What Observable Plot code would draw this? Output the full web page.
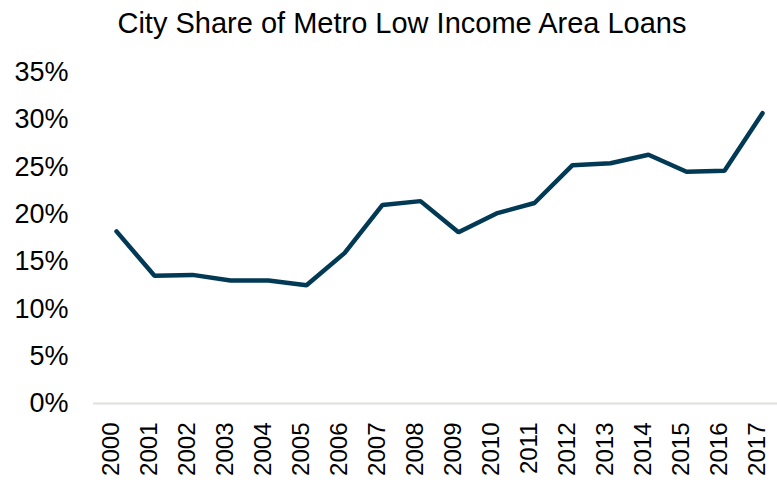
<!DOCTYPE html>
<html>
<head>
<meta charset="utf-8">
<script src="https://cdn.jsdelivr.net/npm/d3@7"></script>
<script src="https://cdn.jsdelivr.net/npm/@observablehq/plot@0.6"></script>
<style>
  html, body { margin: 0; padding: 0; background: #fff; }
  #title {
    width: 750px; padding-left: 27px; height: 46px; line-height: 46px;
    text-align: center; font-family: "Liberation Sans", Arial, sans-serif;
    font-size: 29px; color: #000; white-space: nowrap;
  }
  #chart svg { display: block; }
</style>
</head>
<body>
<div id="title">City Share of Metro Low Income Area Loans</div>
<div id="chart"></div>
<script>
const years = ["2000","2001","2002","2003","2004","2005","2006","2007","2008","2009","2010","2011","2012","2013","2014","2015","2016","2017"];
const shares = [18.2, 13.5, 13.6, 13.0, 13.0, 12.5, 15.9, 21.0, 21.4, 18.1, 20.1, 21.2, 25.2, 25.4, 26.3, 24.5, 24.6, 30.7];
const yTicks = [0, 5, 10, 15, 20, 25, 30, 35];

const data = years.map((year, i) => ({year, share: shares[i]}));

const chart = Plot.plot({
  width: 777,
  height: 437,
  marginLeft: 112,
  marginRight: 12,
  marginTop: 26,
  marginBottom: 80,
  style: {fontFamily: "'Liberation Sans', Arial, sans-serif", color: "#000", background: "#fff"},
  x: {type: "point", domain: years, padding: 0},
  y: {domain: [0, 35]},
  marks: [
    Plot.ruleY([0], {stroke: "#e3dfdb", strokeWidth: 2, insetLeft: -19, insetRight: -12}),
    Plot.axisY({ticks: yTicks, tickFormat: d => d + "%", tickSize: 0, tickPadding: 44, fontSize: 27, label: null}),
    Plot.axisX({tickSize: 0, tickPadding: 19, tickRotate: -90, fontSize: 24, dx: -5, label: null}),
    Plot.line(data, {x: "year", y: "share", stroke: "#023a55", strokeWidth: 4.5, strokeLinejoin: "miter", strokeLinecap: "round"})
  ]
});
document.getElementById("chart").appendChild(chart);
</script>
</body>
</html>
